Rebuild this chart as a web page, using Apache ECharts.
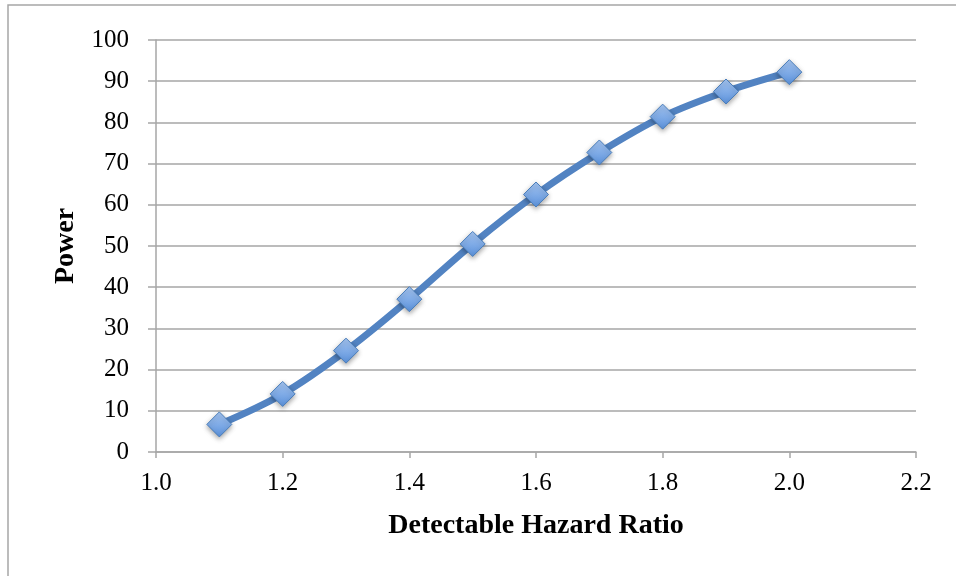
<!DOCTYPE html>
<html>
<head>
<meta charset="utf-8">
<script src="https://cdn.jsdelivr.net/npm/echarts@6/dist/echarts.min.js"></script>
<style>
  html, body { margin: 0; padding: 0; background: #fff; }
  #chart { width: 956px; height: 576px; }
</style>
</head>
<body>
<div id="chart"></div>
<script>
// Detectable hazard ratio vs. statistical power (%)
const hazardRatios = [1.1, 1.2, 1.3, 1.4, 1.5, 1.6, 1.7, 1.8, 1.9, 2.0];
const powerValues = [6.7, 14.1, 24.6, 37.1, 50.5, 62.5, 72.7, 81.4, 87.5, 92.2];

const xTicks = { min: 1.0, max: 2.2, step: 0.2 };
const yTicks = { min: 0, max: 100, step: 10 };

const serif = '"Liberation Serif", "DejaVu Serif", serif';
const gridGray = '#a6a6a6';

const chart = echarts.init(document.getElementById('chart'), null, { renderer: 'canvas' });

chart.setOption({
  backgroundColor: '#ffffff',
  animation: false,
  graphic: [{
    type: 'rect',
    shape: { x: 8, y: 5, width: 1000, height: 700 },
    style: { fill: 'none', stroke: gridGray, lineWidth: 1.5 },
    silent: true,
    z: -1
  }],
  grid: { left: 156, right: 40, top: 40, bottom: 124 },
  xAxis: {
    type: 'value',
    min: xTicks.min,
    max: xTicks.max,
    interval: xTicks.step,
    name: 'Detectable Hazard Ratio',
    nameLocation: 'middle',
    nameGap: 60,
    nameTextStyle: { fontFamily: serif, fontWeight: 'bold', fontSize: 28, color: '#000' },
    axisLine: { show: true, lineStyle: { color: gridGray, width: 1.5 } },
    axisTick: { show: true, inside: false, length: 6, lineStyle: { color: gridGray, width: 1.5 } },
    axisLabel: {
      margin: 19,
      fontFamily: serif, fontSize: 25, color: '#000',
      formatter: v => v.toFixed(1)
    },
    splitLine: { show: false }
  },
  yAxis: {
    type: 'value',
    min: yTicks.min,
    max: yTicks.max,
    interval: yTicks.step,
    name: 'Power',
    nameLocation: 'middle',
    nameRotate: 90,
    nameGap: 76,
    nameTextStyle: { fontFamily: serif, fontWeight: 'bold', fontSize: 28, color: '#000' },
    axisLine: { show: true, lineStyle: { color: gridGray, width: 1.5 } },
    axisTick: { show: true, inside: false, length: 8, lineStyle: { color: gridGray, width: 1.5 } },
    axisLabel: { margin: 27, fontFamily: serif, fontSize: 25, color: '#000' },
    splitLine: { show: true, lineStyle: { color: gridGray, width: 1.5 } }
  },
  series: [{
    type: 'line',
    data: hazardRatios.map((x, i) => [x, powerValues[i]]),
    smooth: 0.35,
    lineStyle: { color: '#5283c2', width: 7 },
    symbol: 'diamond',
    symbolSize: 25,
    itemStyle: {
      color: new echarts.graphic.LinearGradient(0, 0, 0, 1, [
        { offset: 0, color: '#a6c6f2' },
        { offset: 1, color: '#5a91db' }
      ]),
      borderColor: '#4a7ebb',
      borderWidth: 1,
      shadowColor: 'rgba(0,0,0,0.35)',
      shadowBlur: 5,
      shadowOffsetY: 2
    },
    z: 3
  }]
});
</script>
</body>
</html>
